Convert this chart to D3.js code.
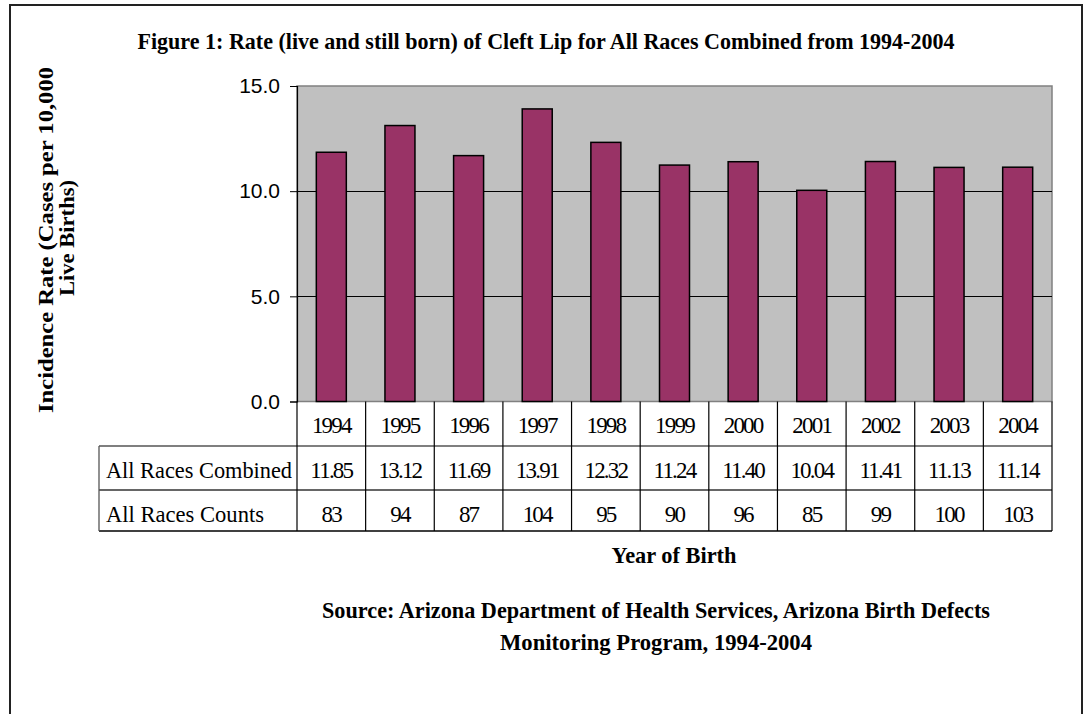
<!DOCTYPE html>
<html>
<head>
<meta charset="utf-8">
<script src="https://cdn.jsdelivr.net/npm/d3@7/dist/d3.min.js"></script>
<style>
  html, body { margin: 0; padding: 0; background: #fff; }
  svg { display: block; }
</style>
</head>
<body>
<svg id="chart" width="1087" height="714"></svg>
<script>
const years = ["1994","1995","1996","1997","1998","1999","2000","2001","2002","2003","2004"];
const rates = [11.85, 13.12, 11.69, 13.91, 12.32, 11.24, 11.40, 10.04, 11.41, 11.13, 11.14];
const counts = [83, 94, 87, 104, 95, 90, 96, 85, 99, 100, 103];
const yTicks = [0, 5, 10, 15];
const rowLabels = ["All Races Combined", "All Races Counts"];
const titleText = "Figure 1: Rate (live and still born) of Cleft Lip for All Races Combined from 1994-2004";
const yLabelLines = ["Incidence Rate (Cases per 10,000", "Live Births)"];
const xLabelText = "Year of Birth";
const sourceLines = ["Source: Arizona Department of Health Services, Arizona Birth Defects", "Monitoring Program, 1994-2004"];

const svg = d3.select("#chart");
const serif = "'Liberation Serif', 'Times New Roman', serif";
const sans = "'Liberation Sans', Arial, sans-serif";

// outer frame
svg.append("path")
  .attr("d", "M10,714 L10,5 L1082,5 L1082,714")
  .attr("fill", "none").attr("stroke", "#222").attr("stroke-width", 2);

const plot = {left: 297, right: 1052, top: 86, bottom: 401.5};
const x = d3.scaleBand().domain(years).range([plot.left, plot.right]).paddingInner(0).paddingOuter(0);
const y = d3.scaleLinear().domain([0, 15]).range([plot.bottom, plot.top]);

// plot background
svg.append("rect")
  .attr("x", plot.left).attr("y", plot.top)
  .attr("width", plot.right - plot.left).attr("height", plot.bottom - plot.top)
  .attr("fill", "#c0c0c0").attr("stroke", "#808080").attr("stroke-width", 1.5);

// gridlines
svg.append("g").selectAll("line").data(yTicks.filter(d => d > 0 && d < 15)).join("line")
  .attr("x1", plot.left).attr("x2", plot.right)
  .attr("y1", d => Math.round(y(d)) + 0.5).attr("y2", d => Math.round(y(d)) + 0.5)
  .attr("stroke", "#000").attr("stroke-width", 1);

// bars
const bw = 30;
svg.append("g").selectAll("rect").data(years).join("rect")
  .attr("x", (d) => x(d) + x.bandwidth() / 2 - bw / 2)
  .attr("y", (d, i) => y(rates[i]))
  .attr("width", bw)
  .attr("height", (d, i) => y(0) - y(rates[i]))
  .attr("fill", "#993366").attr("stroke", "#000").attr("stroke-width", 1.5);

// y axis
const yAxis = d3.axisLeft(y).tickValues(yTicks).tickFormat(d3.format(".1f")).tickSize(7).tickPadding(10);
const ga = svg.append("g").attr("transform", `translate(${plot.left},0)`).call(yAxis);
ga.select(".domain").attr("stroke", "#000").attr("stroke-width", 1.2);
ga.selectAll(".tick line").attr("stroke", "#000");
ga.selectAll(".tick text").attr("font-family", sans).attr("font-size", 21).attr("fill", "#000");

// table
const tbl = {left: 99, r0: plot.bottom, r1: 446, r2: 490, r3: 531};
const tg = svg.append("g");
tg.append("line").attr("x1", tbl.left).attr("x2", plot.right).attr("y1", tbl.r1).attr("y2", tbl.r1).attr("stroke", "#555").attr("stroke-width", 1.3);
tg.append("line").attr("x1", tbl.left).attr("x2", plot.right).attr("y1", tbl.r2).attr("y2", tbl.r2).attr("stroke", "#333").attr("stroke-width", 1.3);
tg.append("line").attr("x1", tbl.left).attr("x2", plot.right).attr("y1", tbl.r3).attr("y2", tbl.r3).attr("stroke", "#000").attr("stroke-width", 1.3);
tg.append("line").attr("x1", tbl.left).attr("x2", tbl.left).attr("y1", tbl.r1).attr("y2", tbl.r3).attr("stroke", "#555").attr("stroke-width", 1.3);
const bounds = years.map(d => x(d)).concat([plot.right]);
tg.selectAll("line.v").data(bounds).join("line").attr("class", "v")
  .attr("x1", d => d).attr("x2", d => d).attr("y1", tbl.r0).attr("y2", tbl.r3)
  .attr("stroke", "#000").attr("stroke-width", 1.2);

const cellFont = 23;
tg.selectAll("text.yr").data(years).join("text").attr("class", "yr")
  .attr("x", d => x(d) + x.bandwidth() / 2).attr("y", 433)
  .attr("text-anchor", "middle").attr("font-family", serif).attr("font-size", cellFont)
  .attr("letter-spacing", -1.8).text(d => d);
tg.selectAll("text.rt").data(rates).join("text").attr("class", "rt")
  .attr("x", (d, i) => x(years[i]) + x.bandwidth() / 2).attr("y", 478)
  .attr("text-anchor", "middle").attr("font-family", serif).attr("font-size", cellFont)
  .attr("letter-spacing", -1.8).text(d => d.toFixed(2));
tg.selectAll("text.ct").data(counts).join("text").attr("class", "ct")
  .attr("x", (d, i) => x(years[i]) + x.bandwidth() / 2).attr("y", 522)
  .attr("text-anchor", "middle").attr("font-family", serif).attr("font-size", cellFont)
  .attr("letter-spacing", -1.8).text(d => d);
tg.selectAll("text.rl").data(rowLabels).join("text").attr("class", "rl")
  .attr("x", 106).attr("y", (d, i) => i === 0 ? 478 : 522)
  .attr("font-family", serif).attr("font-size", cellFont)
  .attr("textLength", (d, i) => i === 0 ? 186 : 158).attr("lengthAdjust", "spacingAndGlyphs")
  .text(d => d);

function fitText(sel, w) {
  sel.attr("textLength", w).attr("lengthAdjust", "spacingAndGlyphs");
}

// title
svg.append("text").attr("x", 546).attr("y", 49).attr("text-anchor", "middle")
  .attr("font-family", serif).attr("font-weight", "bold").attr("font-size", 24)
  .text(titleText).call(fitText, 817);

// y label
const yl = svg.append("g");
yl.append("text").attr("transform", "translate(53,240) rotate(-90)").attr("text-anchor", "middle")
  .attr("font-family", serif).attr("font-weight", "bold").attr("font-size", 22)
  .text(yLabelLines[0]).call(fitText, 346);
yl.append("text").attr("transform", "translate(74,238) rotate(-90)").attr("text-anchor", "middle")
  .attr("font-family", serif).attr("font-weight", "bold").attr("font-size", 22)
  .text(yLabelLines[1]).call(fitText, 116);

// x label
svg.append("text").attr("x", 674).attr("y", 563).attr("text-anchor", "middle")
  .attr("font-family", serif).attr("font-weight", "bold").attr("font-size", 24)
  .text(xLabelText).call(fitText, 125);

// source
svg.append("text").attr("x", 656).attr("y", 618).attr("text-anchor", "middle")
  .attr("font-family", serif).attr("font-weight", "bold").attr("font-size", 24)
  .text(sourceLines[0]).call(fitText, 668);
svg.append("text").attr("x", 656).attr("y", 650).attr("text-anchor", "middle")
  .attr("font-family", serif).attr("font-weight", "bold").attr("font-size", 24)
  .text(sourceLines[1]).call(fitText, 312);
</script>
</body>
</html>
